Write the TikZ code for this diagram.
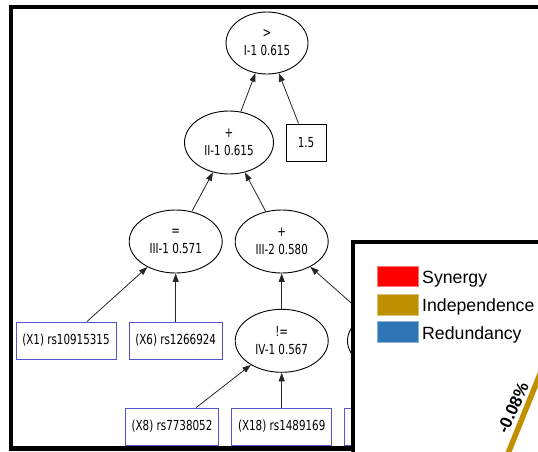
\documentclass[tikz,border=0pt]{standalone}
\usepackage{fontspec}
\setmainfont{DejaVu Sans}
\newfontfamily\treefont[FakeStretch=0.75]{DejaVu Sans}
\newfontfamily\legendfont{Liberation Sans}
\usetikzlibrary{shapes.geometric,arrows.meta}

\definecolor{synred}{RGB}{255,0,0}
\definecolor{indgold}{RGB}{191,144,0}
\definecolor{redblue}{RGB}{46,117,182}
\definecolor{snpblue}{RGB}{85,85,210}

\begin{document}
\begin{tikzpicture}[x=1pt,y=-1pt,
  treetext/.style={font=\treefont\fontsize{13.8}{18}\selectfont},
  op/.style={ellipse, draw=black, line width=0.9pt, fill=white, inner sep=0pt,
    minimum width=93pt, minimum height=63pt, align=center, treetext},
  snp/.style={rectangle, draw=snpblue, line width=0.9pt, fill=white, inner sep=0pt,
    minimum width=100pt, minimum height=37pt, treetext},
  constbox/.style={rectangle, draw=black, line width=0.9pt, fill=white, inner sep=0pt,
    minimum width=40pt, minimum height=37pt, treetext},
  link/.style={draw=black!85, line width=0.8pt, -{Triangle[length=8.5pt,width=6pt]}},
  legendtext/.style={font=\legendfont\fontsize{17.7}{20}\selectfont, inner sep=0pt, anchor=base west},
  swatch/.style={line width=0.6pt}
]
\useasboundingbox (0,0) rectangle (538,451);
\clip (0,0) rectangle (538,451);

% expression tree
\node[op, minimum width=82pt, minimum height=62pt] (n1) at (267,43) {>\\I-1 0.615};
\node[op, minimum width=89pt] (n2) at (229,142.5) {+\\II-1 0.615};
\node[constbox] (c15) at (306,142.5) {1.5};
\node[op] (n3) at (175.7,241.5) {=\\III-1 0.571};
\node[op] (n4) at (281.7,241.5) {+\\III-2 0.580};
\node[snp] (x1) at (66,340.5) {(X1) rs10915315};
\node[snp, minimum width=92.6pt] (x6) at (175.7,340.5) {(X6) rs1266924};
\node[op] (n5) at (281.7,340.8) {!=\\IV-1 0.567};
\node[op] (n6) at (394,340.8) {};
\node[snp, minimum width=92.7pt] (x8) at (172,426.5) {(X8) rs7738052};
\node[snp] (x18) at (281.7,426.5) {(X18) rs1489169};
\node[snp] (x19) at (394,426.5) {};

\draw[link] (n2) -- (n1);
\draw[link] (c15) -- (n1);
\draw[link] (n3) -- (n2);
\draw[link] (n4) -- (n2);
\draw[link] (x1) -- (n3);
\draw[link] (x6) -- (n3);
\draw[link] (n5) -- (n4);
\draw[link] (n6) -- (n4);
\draw[link] (x8) -- (n5);
\draw[link] (x18) -- (n5);

% outer frame
\draw[line width=4.5pt, line join=miter] (620,7) -- (11,7) -- (11,448.5) -- (620,448.5);

% overlapping legend panel
\filldraw[fill=white, draw=black, line width=4.5pt, line join=miter] (353,242) rectangle (700,700);

\filldraw[swatch, fill=synred, draw=synred!55] (377.5,266.7) rectangle (418,286.7);
\filldraw[swatch, fill=indgold, draw=indgold!55] (377.5,294.3) rectangle (418,315);
\filldraw[swatch, fill=redblue, draw=redblue!55] (377.5,321.7) rectangle (418,342.7);
\node[legendtext] (lsyn) at (422,283.5) {Synergy};
\node[legendtext] (lind) at (422,311.4) {Independence};
\node[legendtext] (lred) at (422,339.3) {Redundancy};

% independence band with its share
\draw[indgold, line width=5.5pt] (505,461) -- (545.25,361);
\node[font=\legendfont\bfseries\fontsize{17}{20}\selectfont, inner sep=0pt, rotate=66]
  (pct) at (513,407.8) {-0.08\%};
\end{tikzpicture}
\end{document}
